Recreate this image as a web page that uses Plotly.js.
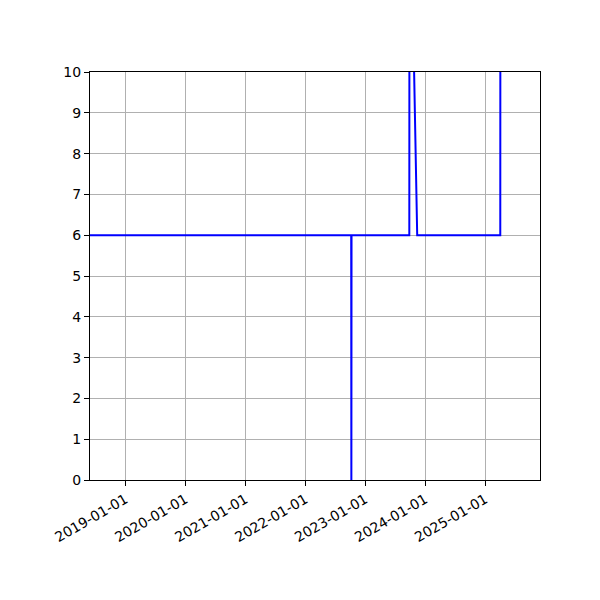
<!DOCTYPE html>
<html>
<head>
<meta charset="utf-8">
<script src="https://cdn.plot.ly/plotly-3.0.1.min.js"></script>
<style>
  html, body { margin: 0; padding: 0; background: #fff; }
  #chart { width: 600px; height: 600px; }
</style>
</head>
<body>
<div id="chart"></div>
<script>
// series
var dates  = ['2018-05-01', '2022-10-07', '2022-10-08', '2022-10-09', '2023-09-26', '2023-09-27', '2023-11-13', '2025-04-02', '2025-04-03'];
var values = [6, 6, 0, 6, 6, 16, 6, 6, 16];

var xRange = ['2018-05-30', '2025-11-30'];
var yTicks = [0, 1, 2, 3, 4, 5, 6, 7, 8, 9, 10];

var trace = {
    x: dates,
    y: values,
    type: 'scatter',
    mode: 'lines',
    line: { color: '#0000ff', width: 2 },
    hoverinfo: 'x+y'
};

var tickFont = { family: 'DejaVu Sans', size: 14, color: '#000' };

var layout = {
    width: 600,
    height: 600,
    showlegend: false,
    paper_bgcolor: '#fff',
    plot_bgcolor: '#fff',
    margin: { l: 90, r: 60, t: 72, b: 120, pad: 0 },
    xaxis: {
        type: 'date',
        range: xRange,
        tick0: '2019-01-01',
        dtick: 'M12',
        tickformat: '%Y-%m-%d',
        tickangle: -30,
        tickfont: tickFont,
        ticks: 'outside',
        ticklen: 5,
        tickcolor: '#000',
        showgrid: true,
        gridcolor: '#b0b0b0',
        gridwidth: 1,
        showline: true,
        linecolor: '#000',
        linewidth: 1,
        mirror: true,
        zeroline: false
    },
    yaxis: {
        range: [0, 10],
        tickvals: yTicks,
        tickfont: tickFont,
        ticks: 'outside',
        ticklen: 5,
        tickcolor: '#000',
        showgrid: true,
        gridcolor: '#b0b0b0',
        gridwidth: 1,
        showline: true,
        linecolor: '#000',
        linewidth: 1,
        mirror: true,
        zeroline: false
    }
};

Plotly.newPlot('chart', [trace], layout, { displayModeBar: false, staticPlot: true });
</script>
</body>
</html>
